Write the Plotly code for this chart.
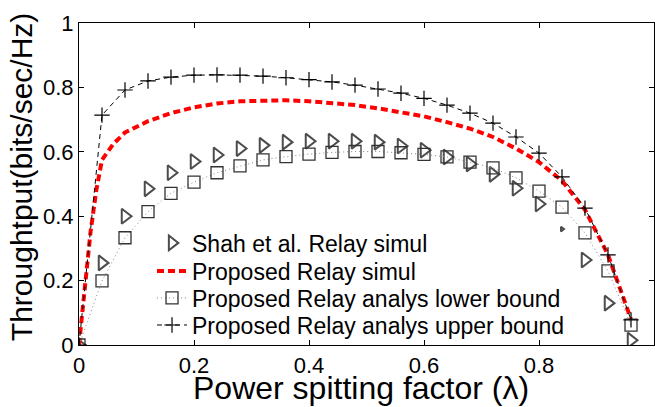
import plotly.graph_objects as go

# data
lam = [0, 0.04, 0.08, 0.12, 0.16, 0.20, 0.24, 0.28, 0.32, 0.36, 0.40, 0.44, 0.48,
       0.52, 0.56, 0.60, 0.64, 0.68, 0.72, 0.76, 0.80, 0.84, 0.88, 0.92, 0.96]

shah_simul = [0, 0.255, 0.40, 0.485, 0.535, 0.57, 0.59, 0.61, 0.62, 0.63, 0.633, 0.633, 0.633,
              0.63, 0.618, 0.605, 0.584, 0.562, 0.53, 0.487, 0.438, 0.36, 0.264, 0.13, 0.015]

lower_bound = [0, 0.199, 0.333, 0.414, 0.471, 0.506, 0.535, 0.556, 0.575, 0.585, 0.593, 0.598, 0.601,
               0.601, 0.597, 0.592, 0.584, 0.568, 0.55, 0.519, 0.478, 0.428, 0.348, 0.23, 0.062]

upper_bound = [0, 0.714, 0.792, 0.82, 0.832, 0.838, 0.839, 0.838, 0.835, 0.83, 0.824, 0.817, 0.807,
               0.795, 0.782, 0.766, 0.745, 0.72, 0.689, 0.646, 0.596, 0.522, 0.425, 0.28, 0.078]

lam_sim = [0, 0.01, 0.02, 0.03, 0.04, 0.06, 0.08, 0.12, 0.16, 0.20, 0.24, 0.28, 0.32, 0.36,
           0.40, 0.44, 0.48, 0.52, 0.56, 0.60, 0.64, 0.68, 0.72, 0.76, 0.80, 0.84, 0.88, 0.92, 0.96]
proposed_simul = [0, 0.17, 0.35, 0.48, 0.575, 0.625, 0.66, 0.695, 0.72, 0.738, 0.75, 0.757, 0.76, 0.76,
                  0.757, 0.752, 0.745, 0.735, 0.724, 0.71, 0.692, 0.672, 0.646, 0.61, 0.568, 0.51,
                  0.42, 0.28, 0.08]

tick_vals = [0, 0.2, 0.4, 0.6, 0.8, 1]
tick_text = ["0", "0.2", "0.4", "0.6", "0.8", "1"]

names = ["Shah et al. Relay simul", "Proposed Relay simul",
         "Proposed Relay analys lower bound", "Proposed Relay analys upper bound"]

x_title = "Power spitting factor (λ)"
y_title = "Throughtput(bits/sec/Hz)"

FONT = "Arial, Liberation Sans, Helvetica, sans-serif"

fig = go.Figure()

tri_sizes = [13] * len(lam)
tri_sizes[21] = 4

fig.add_trace(go.Scatter(
    x=lam, y=shah_simul, name=names[0], mode="markers", legend="legend",
    marker=dict(symbol="triangle-right-open", size=tri_sizes, color="black",
                line=dict(width=2, color="black")),
))
fig.add_trace(go.Scatter(
    x=lam_sim, y=proposed_simul, name=names[1], mode="lines", legend="legend2",
    line=dict(color="#ff0000", width=4, dash="7px,4px"),
))
fig.add_trace(go.Scatter(
    x=lam, y=lower_bound, name=names[2], mode="lines+markers", legend="legend3",
    line=dict(color="#888888", width=1, dash="1px,3px"),
    marker=dict(symbol="square-open", size=12, color="#333333",
                line=dict(width=1.3, color="#333333")),
))
fig.add_trace(go.Scatter(
    x=lam, y=upper_bound, name=names[3], mode="lines+markers", legend="legend4",
    line=dict(color="black", width=1, dash="5px,4px"),
    marker=dict(symbol="cross-thin", size=11, color="black",
                line=dict(width=1.2, color="black")),
))

axis_common = dict(
    range=[0, 1], tickvals=tick_vals, ticktext=tick_text,
    showline=True, linecolor="black", linewidth=1.2, mirror="allticks",
    ticks="inside", ticklen=5, tickcolor="black", tickwidth=1,
    showgrid=False, zeroline=False, automargin=False,
    tickfont=dict(family=FONT, size=22, color="black"),
)


def legend_row(yc):
    return dict(x=0.127, y=yc, xanchor="left", yanchor="middle",
                bgcolor="rgba(0,0,0,0)", borderwidth=0,
                font=dict(family=FONT, size=23, color="black"))


fig.update_layout(
    width=655, height=407,
    margin=dict(l=79, r=1, t=23, b=62),
    paper_bgcolor="white", plot_bgcolor="white",
    showlegend=True,
    legend=legend_row(0.317),
    legend2=legend_row(0.230),
    legend3=legend_row(0.146),
    legend4=legend_row(0.062),
    xaxis=axis_common,
    yaxis=axis_common,
    annotations=[
        dict(text=x_title, xref="paper", yref="paper", x=0.49, y=-0.07,
             xanchor="center", yanchor="top", showarrow=False,
             font=dict(family=FONT, size=32, color="black")),
        dict(text=y_title, xref="paper", yref="paper", x=-0.132, y=0.52,
             xanchor="left", yanchor="middle", textangle=-90, showarrow=False,
             font=dict(family=FONT, size=30, color="black")),
    ],
)

fig.write_html("out.html", config={"displayModeBar": False},
               post_script="document.body.style.margin='0';document.body.style.overflow='hidden';")
